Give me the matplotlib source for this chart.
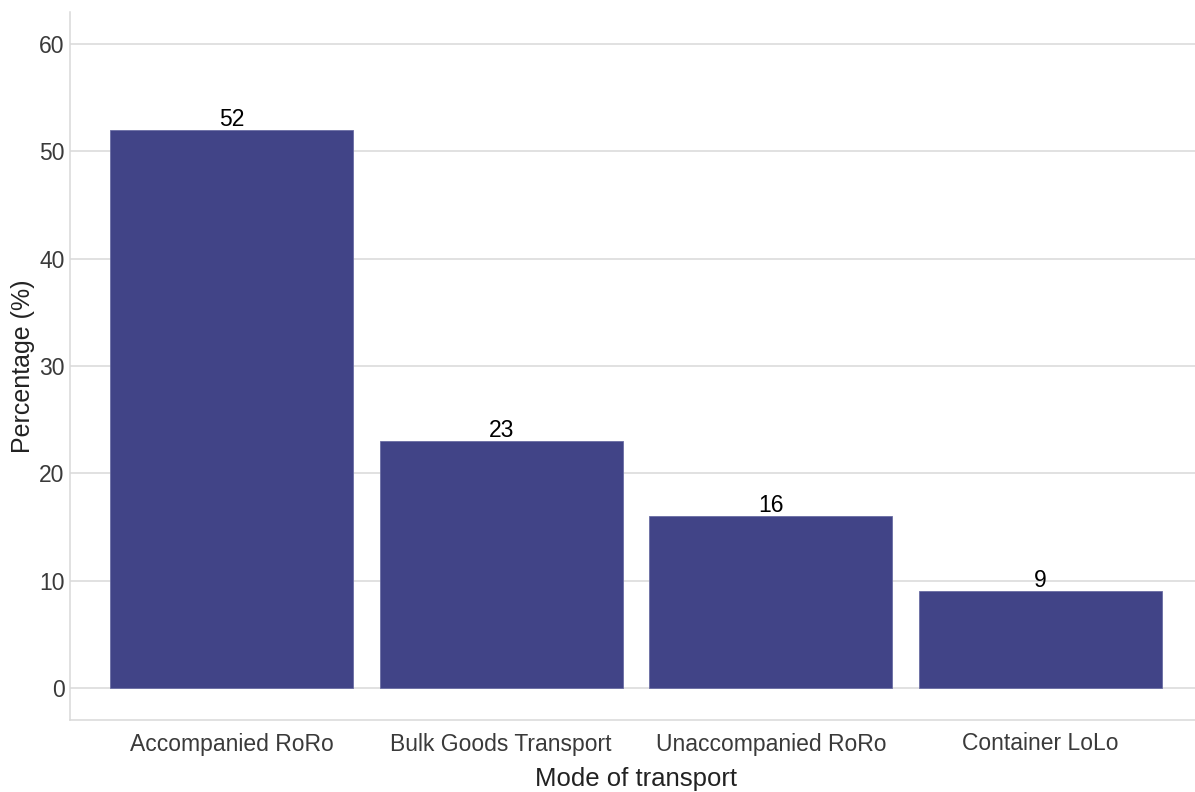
import matplotlib.pyplot as plt

# Data
modes = ["Accompanied RoRo", "Bulk Goods Transport", "Unaccompanied RoRo", "Container LoLo"]
percent = [52, 23, 16, 9]

plt.rcParams["font.family"] = ["Liberation Sans", "DejaVu Sans"]

fig = plt.figure(figsize=(11.95, 7.92), dpi=100)
# axes box in pixels: left 70, right ~1202, top 12, bottom 720
ax = fig.add_axes([70 / 1195, 72 / 792, 1132 / 1195, 708 / 792])

x = range(1, len(modes) + 1)
ax.bar(x, percent, width=0.9, color="#414487", edgecolor="#6a6da3", linewidth=0.6, zorder=3)

for xi, v in zip(x, percent):
    ax.text(xi, v - 0.1, str(v), ha="center", va="bottom", fontsize=16.5, color="black", zorder=4)

ax.set_xlim(0.4, 4.6)
ax.set_ylim(-3, 63)
ax.set_yticks([0, 10, 20, 30, 40, 50, 60])
ax.set_xticks(list(x))
ax.set_xticklabels(modes)

ax.grid(axis="y", color="#d9d9d9", linewidth=1.1, zorder=0)
ax.grid(axis="x", visible=False)
for side in ["top", "right"]:
    ax.spines[side].set_visible(False)
for side in ["left", "bottom"]:
    ax.spines[side].set_color("#d9d9d9")
    ax.spines[side].set_linewidth(1.1)

ax.tick_params(axis="both", length=0, labelsize=16.5, labelcolor="#3a3a3a")
ax.tick_params(axis="y", pad=4)
ax.tick_params(axis="x", pad=9)

ax.set_xlabel("Mode of transport", fontsize=18.5, color="#222222", labelpad=8)
ax.set_ylabel("Percentage (%)", fontsize=18, color="#222222", labelpad=3)

fig.savefig("out.png", dpi=100)
